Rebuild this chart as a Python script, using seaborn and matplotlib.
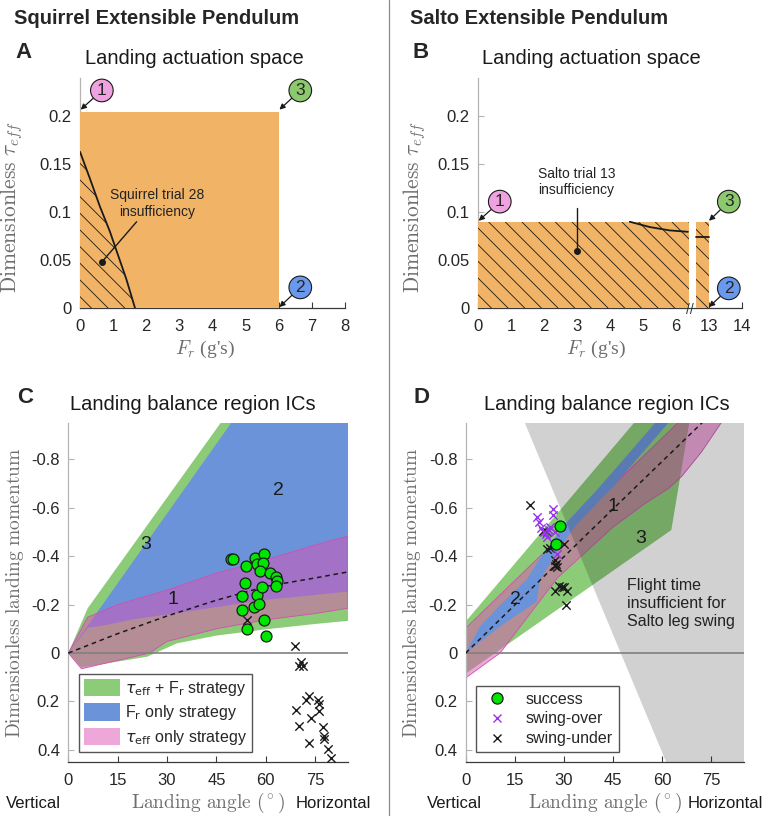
import matplotlib
matplotlib.use('Agg')
import matplotlib.pyplot as plt
import seaborn as sns
from matplotlib.lines import Line2D
from matplotlib.patches import Patch

# ---- panel A: squirrel landing actuation space ----
sq_fr_max = 6.0
sq_tau_max = 0.205
sq_curve_fr = [0, 0.3, 0.6, 0.9, 1.1, 1.4, 1.66]
sq_curve_tau = [0.163, 0.135, 0.106, 0.08, 0.06, 0.03, 0.0]
sq_xticks = [0, 1, 2, 3, 4, 5, 6, 7, 8]
tau_ticks = [0, 0.05, 0.1, 0.15, 0.2]

# ---- panel B: Salto landing actuation space (broken Fr axis) ----
salto_left_fr = [0, 6.4]
salto_right_fr = [12.6, 13.0]
salto_tau_max = 0.09
salto_curve_fr = [4.6, 5.2, 5.8, 6.36]
salto_curve_tau = [0.09, 0.0845, 0.081, 0.0795]
salto_curve2_fr = [12.62, 13.0]
salto_curve2_tau = [0.0743, 0.0743]
salto_xticks = [0, 1, 2, 3, 4, 5, 6, 13, 14]

# ---- panel C: squirrel balance regions ----
c_green_top_x = [0, 5.9, 46.8, 85]
c_green_top_y = [0, -0.185, -0.96, -0.96]
c_green_bot_x = [0, 4, 24, 33, 45, 60, 75, 85]
c_green_bot_y = [0, 0.06, 0.015, -0.04, -0.072, -0.098, -0.12, -0.133]
c_blue_top_x = [0, 50, 85]
c_blue_top_y = [0, -0.96, -0.96]
c_blue_bot_x = [0, 6, 10, 20, 33, 45, 60, 75, 85]
c_blue_bot_y = [0, -0.105, -0.112, -0.14, -0.165, -0.19, -0.22, -0.24, -0.254]
c_pink_top_x = [0, 5.9, 15, 30, 45, 60, 75, 85]
c_pink_top_y = [0, -0.148, -0.2, -0.26, -0.33, -0.385, -0.446, -0.483]
c_pink_bot_x = [0, 4, 24.7, 30, 45, 60, 75, 85]
c_pink_bot_y = [0, 0.065, 0, -0.048, -0.10, -0.137, -0.163, -0.185]
c_dash_x = [0, 15, 30, 45, 60, 75, 85]
c_dash_y = [0, -0.08, -0.153, -0.218, -0.275, -0.31, -0.335]

c_success_ang = [49.3, 50.0, 53.9, 56.7, 59.5, 57.3, 59.2, 58.3, 61.3, 63.1, 63.4, 63.1,
                 53.7, 52.7, 57.2, 59.0, 56.4, 57.9, 52.9, 59.5, 54.2, 60.2]
c_success_mom = [-0.387, -0.387, -0.36, -0.394, -0.409, -0.366, -0.37, -0.34, -0.332, -0.316,
                 -0.298, -0.277, -0.291, -0.236, -0.24, -0.272, -0.192, -0.202, -0.178, -0.137,
                 -0.099, -0.071]
c_fail_ang = [54.4, 68.9, 70.7, 71.2, 70.2, 73.0, 72.2, 75.8, 76.3, 69.2, 76.1, 73.9, 70.0,
              77.3, 77.8, 77.6, 73.2, 78.8, 79.8]
c_fail_mom = [-0.137, -0.027, 0.039, 0.052, 0.052, 0.176, 0.195, 0.192, 0.21, 0.236, 0.24,
              0.268, 0.302, 0.305, 0.343, 0.354, 0.37, 0.398, 0.432]

# ---- panel D: Salto balance regions ----
d_green_x = [0, 52, 68.4, 62.8, 9, 0]
d_green_y = [-0.13, -0.96, -0.96, -0.508, 0, 0.085]
d_pink_top_x = [0, 65.5]
d_pink_top_y = [-0.103, -0.96]
d_pink_bot_x = [0, 10.5, 28, 45, 55, 62, 66, 72, 78.5]
d_pink_bot_y = [0.103, 0, -0.31, -0.52, -0.62, -0.68, -0.73, -0.83, -0.96]
d_blue_left_x = [0, 4.4, 11.5, 18.6, 23.7, 29.8, 40.9, 58.5]
d_blue_left_y = [0, -0.11, -0.212, -0.302, -0.412, -0.524, -0.686, -0.96]
d_blue_right_x = [0, 10.5, 21.6, 22.7, 27.7, 33.4, 45, 62.5]
d_blue_right_y = [0, -0.11, -0.212, -0.302, -0.412, -0.524, -0.686, -0.96]
d_gray_x = [17.8, 85, 85, 61.5]
d_gray_y = [-0.96, -0.96, 0.46, 0.46]
d_dash_x = [0, 36.9, 72.5]
d_dash_y = [0, -0.489, -0.955]

d_success_ang = [28.8, 27.6]
d_success_mom = [-0.524, -0.45]
d_over_ang = [21.8, 22.4, 23.1, 23.9, 24.6, 25.9, 26.6, 26.7, 25.4, 27.4, 27.9, 24.9]
d_over_mom = [-0.563, -0.542, -0.515, -0.50, -0.49, -0.52, -0.593, -0.57, -0.508, -0.50,
              -0.408, -0.48]
d_under_ang = [19.6, 23.7, 24.7, 24.9, 25.7, 30.0, 27.4, 27.6, 27.9, 27.2, 28.5, 30.0, 30.8,
               27.4, 30.5, 29.5]
d_under_mom = [-0.613, -0.505, -0.5, -0.428, -0.435, -0.45, -0.384, -0.366, -0.357, -0.36,
               -0.277, -0.272, -0.258, -0.258, -0.199, -0.274]

mom_ticks = [-0.8, -0.6, -0.4, -0.2, 0, 0.2, 0.4]
mom_labels = ['-0.8', '-0.6', '-0.4', '-0.2', '0', '0.2', '0.4']
ang_ticks = [0, 15, 30, 45, 60, 75]

ORANGE = '#f1b466'
GREEN = '#8ccb78'
BLUE = '#6b93da'
PINK = (0.863, 0.314, 0.706, 0.5)
PINK_EDGE = '#d050b0'
LIME = '#00e600'
PURPLE = '#9933ee'
CIRC_PINK = '#eea3e0'
CIRC_GREEN = '#8cc86e'
CIRC_BLUE = '#6a98ec'
TICK_C = '#262626'
LABEL_C = '#6e6e6e'

sns.set_theme(style='ticks')
plt.rcParams['font.family'] = ['Liberation Sans', 'DejaVu Sans']
plt.rcParams['hatch.linewidth'] = 0.6
plt.rcParams['mathtext.fontset'] = 'dejavusans'

W, H = 769, 816
fig = plt.figure(figsize=(W / 100, H / 100), dpi=100)


def px_axes(left, top, right, bottom):
    return fig.add_axes([left / W, 1 - bottom / H, (right - left) / W, (bottom - top) / H])


axA = px_axes(80, 78, 345, 308)
axB = px_axes(478, 78, 742, 308)
axC = px_axes(68.3, 423, 348, 762)
axD = px_axes(465.7, 423, 744, 762)


def style_axes(ax):
    sns.despine(ax=ax)
    ax.spines['left'].set_color('#b4b4b4')
    ax.spines['bottom'].set_color('#3a3a3a')
    ax.spines['left'].set_linewidth(0.9)
    ax.spines['bottom'].set_linewidth(0.9)
    ax.tick_params(direction='in', length=4, width=0.8, labelsize=12, colors=TICK_C)
    ax.tick_params(axis='y', colors='#b4b4b4', labelcolor=TICK_C, pad=6)
    ax.tick_params(axis='x', colors='#3a3a3a', labelcolor=TICK_C, pad=8)


def badge(ax, text, xy, xytext, fc):
    ax.annotate(text, xy=xy, xytext=xytext, ha='center', va='center', fontsize=12.5,
                bbox=dict(boxstyle='circle,pad=0.22', fc=fc, ec='k', lw=0.8),
                arrowprops=dict(arrowstyle='-|>', color='k', lw=0.9, shrinkA=0, shrinkB=0,
                                mutation_scale=8),
                annotation_clip=False, zorder=10)


def salto_pos(fr):
    # broken axis: values beyond the break are shifted left by 6
    return [v - 6 if v > 10 else v for v in fr]


# ---------------- panel A ----------------
axA.fill_between([0, sq_fr_max], 0, sq_tau_max, color=ORANGE, lw=0, zorder=3)
axA.fill_between(sq_curve_fr, 0, sq_curve_tau, facecolor='none', edgecolor='k', hatch='\\\\',
                 lw=0, zorder=3.5)
sns.lineplot(x=sq_curve_fr, y=sq_curve_tau, ax=axA, color='k', lw=1.3, zorder=4)
axA.plot([0.66, 1.71], [0.048, 0.09], color='k', lw=1.0, zorder=4)
axA.plot([0.66], [0.048], 'ko', ms=4, zorder=4)
axA.text(2.32, 0.109, 'Squirrel trial 28\ninsufficiency', ha='center', va='center',
         fontsize=10, color='#222222', zorder=5)
badge(axA, '1', (0.02, 0.207), (0.66, 0.227), CIRC_PINK)
badge(axA, '3', (6.02, 0.207), (6.65, 0.227), CIRC_GREEN)
badge(axA, '2', (6.02, 0.001), (6.65, 0.0215), CIRC_BLUE)
axA.set_xlim(0, 8)
axA.set_ylim(0, 0.24)
axA.set_xticks(sq_xticks)
axA.set_yticks(tau_ticks)
axA.set_yticklabels(['0', '0.05', '0.1', '0.15', '0.2'])
style_axes(axA)

# ---------------- panel B ----------------
for seg in (salto_left_fr, salto_right_fr):
    p = salto_pos(seg)
    axB.fill_between(p, 0, salto_tau_max, facecolor=ORANGE, edgecolor='k', hatch='\\\\', lw=0,
                     zorder=3)
sns.lineplot(x=salto_pos(salto_curve_fr), y=salto_curve_tau, ax=axB, color='k', lw=1.3, zorder=4)
sns.lineplot(x=salto_pos(salto_curve2_fr), y=salto_curve2_tau, ax=axB, color='k', lw=1.3, zorder=4)
axB.plot([3, 3], [0.059, 0.104], color='k', lw=1.0, zorder=4)
axB.plot([3], [0.059], 'ko', ms=4, zorder=4)
axB.text(2.98, 0.1316, 'Salto trial 13\ninsufficiency', ha='center', va='center',
         fontsize=10, color='#222222', zorder=5)
axB.text(6.42, -0.002, '//', ha='center', va='center', fontsize=10, color='#3a3a3a',
         zorder=6, clip_on=False)
badge(axB, '1', (0.02, 0.091), (0.66, 0.111), CIRC_PINK)
badge(axB, '3', (salto_pos([13.0])[0], 0.091), (salto_pos([13.6])[0], 0.111), CIRC_GREEN)
badge(axB, '2', (salto_pos([13.0])[0], 0.001), (salto_pos([13.6])[0], 0.0205), CIRC_BLUE)
axB.set_xlim(0, 8)
axB.set_ylim(0, 0.24)
axB.set_xticks(salto_pos(salto_xticks))
axB.set_xticklabels([str(v) for v in salto_xticks])
axB.set_yticks(tau_ticks)
axB.set_yticklabels(['0', '0.05', '0.1', '0.15', '0.2'])
style_axes(axB)

for ax, lx, ly in ((axA, 0.47, -0.206), (axB, 0.445, -0.19)):
    ax.set_ylabel(r'$\mathrm{Dimensionless}\ \tau_{eff}$', fontsize=15.5, color=LABEL_C,
                  math_fontfamily='cm')
    ax.yaxis.set_label_coords(ly, 0.44)
    ax.text(lx, -0.18, r"$F_r$ (g's)", transform=ax.transAxes, ha='center', va='center',
            fontsize=14, color=LABEL_C, family='Liberation Serif', math_fontfamily='cm')

# ---------------- panel C ----------------
axC.fill(c_green_top_x + c_green_bot_x[::-1], c_green_top_y + c_green_bot_y[::-1],
         color=GREEN, lw=0, zorder=1)
axC.fill(c_blue_top_x + c_blue_bot_x[::-1], c_blue_top_y + c_blue_bot_y[::-1],
         color=BLUE, lw=0, zorder=2)
axC.fill(c_pink_top_x + c_pink_bot_x[::-1], c_pink_top_y + c_pink_bot_y[::-1],
         facecolor=PINK, edgecolor=PINK_EDGE, lw=0.6, zorder=3)
axC.axhline(0, color='#808080', lw=1.2, zorder=3.5)
sns.lineplot(x=c_dash_x, y=c_dash_y, ax=axC, color='k', lw=1.1, linestyle=(0, (3, 2.5)),
             zorder=4)
sns.scatterplot(x=c_fail_ang, y=c_fail_mom, ax=axC, marker='x', s=36, color='k',
                linewidth=1.0, zorder=5, legend=False)
sns.scatterplot(x=c_success_ang, y=c_success_mom, ax=axC, marker='o', s=62, color=LIME,
                edgecolor='k', linewidth=0.9, zorder=6, legend=False)
for t, x, y in (('1', 31.7, -0.22), ('2', 64, -0.672), ('3', 23.4, -0.449)):
    axC.text(x, y, t, fontsize=14, ha='center', va='center', color='k', zorder=7)
c_handles = [Patch(facecolor=GREEN, edgecolor='none'),
             Patch(facecolor=BLUE, edgecolor='none'),
             Patch(facecolor=PINK, edgecolor='none')]
c_labels = [r'$\tau_{\mathrm{eff}}$ + F$_{\mathrm{r}}$ strategy',
            r'F$_{\mathrm{r}}$ only strategy',
            r'$\tau_{\mathrm{eff}}$ only strategy']
axC.legend(c_handles, c_labels, loc='lower left', bbox_to_anchor=(0.038, 0.03),
           borderaxespad=0, fontsize=11.5, handlelength=2.3, handleheight=1.3,
           labelspacing=0.35, borderpad=0.3, handletextpad=0.3, fancybox=False,
           edgecolor='#555555', framealpha=1).set_zorder(8)

# ---------------- panel D ----------------
axD.fill(d_green_x, d_green_y, color=GREEN, lw=0, zorder=1)
axD.fill(d_pink_top_x + d_pink_bot_x[::-1], d_pink_top_y + d_pink_bot_y[::-1],
         facecolor=PINK, edgecolor=PINK_EDGE, lw=0.6, zorder=2)
axD.fill(d_blue_left_x + d_blue_right_x[::-1], d_blue_left_y + d_blue_right_y[::-1],
         color=BLUE, lw=0, zorder=3)
axD.fill(d_gray_x, d_gray_y, color='k', alpha=0.2, lw=0, zorder=3.2)
axD.axhline(0, color='#808080', lw=1.2, zorder=3.5)
sns.lineplot(x=d_dash_x, y=d_dash_y, ax=axD, color='k', lw=1.1, linestyle=(0, (3, 2.5)),
             zorder=4)
sns.scatterplot(x=d_under_ang, y=d_under_mom, ax=axD, marker='x', s=36, color='k',
                linewidth=1.0, zorder=5, legend=False)
sns.scatterplot(x=d_over_ang, y=d_over_mom, ax=axD, marker='x', s=36, color=PURPLE,
                linewidth=1.0, zorder=5, legend=False)
sns.scatterplot(x=d_success_ang, y=d_success_mom, ax=axD, marker='o', s=62, color=LIME,
                edgecolor='k', linewidth=0.9, zorder=6, legend=False)
for t, x, y in (('1', 45, -0.607), ('2', 15.2, -0.22), ('3', 53.4, -0.473)):
    axD.text(x, y, t, fontsize=14, ha='center', va='center', color='k', zorder=7)
axD.text(49.3, -0.206, 'Flight time\ninsufficient for\nSalto leg swing', fontsize=11.5,
         ha='left', va='center', color='#222222', linespacing=1.25, zorder=7)
d_handles = [Line2D([], [], ls='none', marker='o', ms=8, mfc=LIME, mec='k', mew=0.9),
             Line2D([], [], ls='none', marker='x', ms=6, mec=PURPLE, mew=1.0),
             Line2D([], [], ls='none', marker='x', ms=6, mec='k', mew=1.0)]
axD.legend(d_handles, ['success', 'swing-over', 'swing-under'], loc='lower left',
           bbox_to_anchor=(0.036, 0.03), borderaxespad=0, fontsize=11.5, handlelength=2.0,
           labelspacing=0.3, borderpad=0.35, handletextpad=0.8, fancybox=False,
           edgecolor='#555555', framealpha=1).set_zorder(8)

for ax, vx, hx, ly in ((axC, -0.126, 0.946, -0.153), (axD, -0.042, 0.934, -0.155)):
    ax.set_xlim(0, 85)
    ax.set_ylim(0.45, -0.95)
    ax.set_xticks(ang_ticks)
    ax.set_yticks(mom_ticks)
    ax.set_yticklabels(mom_labels)
    style_axes(ax)
    ax.set_ylabel(r'$\mathrm{Dimensionless\ landing\ momentum}$', fontsize=14,
                  color=LABEL_C, math_fontfamily='cm')
    ax.yaxis.set_label_coords(ly, 0.5)
    ax.set_xlabel('')
    ax.text(0.5, -0.121, r'$\mathrm{Landing\ angle\ (^\circ)}$', transform=ax.transAxes,
            ha='center', va='center', fontsize=14, color=LABEL_C, math_fontfamily='cm')
    ax.text(vx, -0.121, 'Vertical', transform=ax.transAxes, ha='center', va='center',
            fontsize=12, color='#1a1a1a')
    ax.text(hx, -0.121, 'Horizontal', transform=ax.transAxes, ha='center', va='center',
            fontsize=12, color='#1a1a1a')

for ax in (axA, axB):
    ax.set_xlabel('')

# ---------------- figure text ----------------
fig.text(14 / W, 1 - 18 / H, 'Squirrel Extensible Pendulum', fontsize=14.5, weight='bold',
         ha='left', va='center')
fig.text(410 / W, 1 - 18 / H, 'Salto Extensible Pendulum', fontsize=14.5, weight='bold',
         ha='left', va='center')
for letter, x, y in (('A', 15, 53), ('B', 413, 52), ('C', 17, 397), ('D', 414, 397)):
    fig.text(x / W, 1 - y / H, letter, fontsize=16, weight='bold', ha='left', va='center')
for title, x, y in (('Landing actuation space', 194, 58), ('Landing actuation space', 591, 58),
                    ('Landing balance region ICs', 193, 405),
                    ('Landing balance region ICs', 607, 405)):
    fig.text(x / W, 1 - y / H, title, fontsize=14.5, ha='center', va='center', color='#1a1a1a')
fig.add_artist(Line2D([389 / W, 389 / W], [0, 1], color='#8a8a8a', lw=0.9))

fig.savefig('out.png', dpi=100)
